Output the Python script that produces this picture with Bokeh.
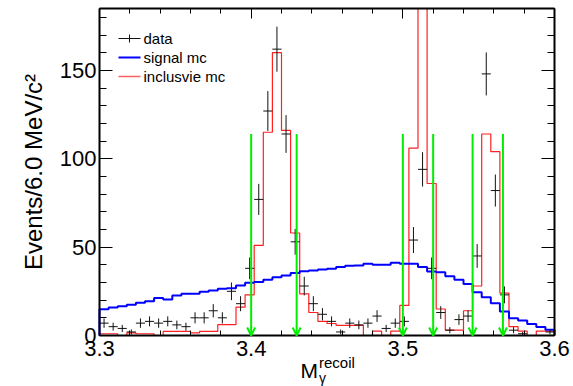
import numpy as np
from bokeh.plotting import figure
from bokeh.models import (Range1d, FixedTicker, LinearAxis, Arrow, OpenHead,
                          CustomJSTickFormatter)
from bokeh.embed import file_html
from bokeh.resources import INLINE
from bokeh.core.properties import value

# ---------------- data ----------------
x_min, x_max, bin_width = 3.3, 3.6, 0.006
y_max = 185

data_counts = [7, 5, 4, 2, 7, 8, 7, 8, 6, 5,
               10, 10, 14, 10, 25, 18, 38, 77, 127, 162,
               114, 53, 28, 18, 12, 8, 2, 7, 6, 7,
               11, 4, 7, 8, 54, 94, 38, 13, 3, 9,
               11, 45, 148, 82, 23, 3, 1, 0, 0, 2]

signal_mc = [14.8, 15.8, 16.5, 17.4, 18.5, 19.4, 21.2, 20.3, 22.6, 23.6,
             23.6, 24.7, 25.5, 26.4, 26.8, 28.3, 29.8, 30.3, 31.5, 33.0,
             34.0, 35.3, 36.3, 36.8, 37.3, 37.8, 38.8, 39.5, 39.6, 40.6,
             40.0, 40.0, 41.1, 40.6, 40.6, 38.7, 36.2, 35.8, 33.5, 31.6,
             29.2, 24.5, 21.7, 18.2, 13.6, 9.7, 8.5, 6.5, 4.8, 3.3]

inclusive_mc = [1.0, 1.0, 0.0, 1.5, 1.0, 1.0, 0.0, 2.3, 2.3, 2.3,
                1.5, 2.3, 2.3, 6.2, 6.2, 16.0, 23.0, 51.0, 115.0, 160.0,
                116.0, 58.0, 23.6, 13.0, 8.0, 6.8, 5.7, 5.7, 5.7, 0.0,
                2.5, 0.0, 2.5, 17.0, 106.0, 230.0, 86.0, 15.0, 3.0, 3.0,
                14.0, 28.0, 114.0, 104.0, 24.0, 5.0, 2.5, 0.0, 2.5, 2.5]

cut_positions = [3.40, 3.43, 3.50, 3.52, 3.546, 3.566]
cut_arrow_top = 114

x_ticks = [3.3, 3.4, 3.5, 3.6]
y_ticks = [0, 50, 100, 150]
legend_labels = ["data", "signal mc", "inclusvie mc"]

# ---------------- derived ----------------
n_bins = len(data_counts)
edges = x_min + bin_width * np.arange(n_bins + 1)
centers = edges[:-1] + bin_width / 2


def step_outline(vals):
    xs, ys = [edges[0]], [0.0]
    for i, v in enumerate(vals):
        xs += [edges[i], edges[i + 1]]
        ys += [v, v]
    xs.append(edges[-1])
    ys.append(0.0)
    return xs, ys


FONT = "Liberation Sans"
W, H = 573, 386
# pixel box of the histogram frame inside the canvas
box_l, box_r, box_t, box_b = 99, 554, 8, 335
ppx = (box_r - box_l) / (x_max - x_min)
ppy = (box_b - box_t) / y_max

p = figure(width=W, height=H, output_backend="svg", toolbar_location=None,
           x_range=Range1d(x_min - box_l / ppx, x_max + (W - box_r) / ppx),
           y_range=Range1d(-(H - box_b) / ppy, y_max + box_t / ppy),
           min_border=0, background_fill_color="white",
           border_fill_color="white")
p.xgrid.visible = False
p.ygrid.visible = False
p.outline_line_color = None


def px_x(px):
    return x_min + (px - box_l) / ppx


def px_y(py):
    return (box_b - py) / ppy


# histograms (clipped at the top of the histogram box)
rx, ry = step_outline(inclusive_mc)
p.line(rx, np.minimum(ry, y_max), line_color="#ff2020", line_width=1.2)
bx, by = step_outline(signal_mc)
p.line(bx, by, line_color="#0000ff", line_width=2)

# data with errors
d = np.array(data_counts, dtype=float)
mask = d > 0
err = np.sqrt(d)
p.segment(x0=centers[mask], y0=(d - err)[mask], x1=centers[mask], y1=(d + err)[mask],
          line_color="#111111", line_width=1)
p.segment(x0=edges[:-1][mask], y0=d[mask], x1=edges[1:][mask], y1=d[mask],
          line_color="#111111", line_width=1)

# cut arrows
for c in cut_positions:
    p.add_layout(Arrow(x_start=c, y_start=cut_arrow_top, x_end=c, y_end=0,
                       line_color="#00ee00", line_width=2,
                       end=OpenHead(size=8, line_color="#00ee00", line_width=2)))

# legend (manual, ROOT style)
leg_x0, leg_x1, leg_tx = px_x(118), px_x(140), px_x(143)
leg_y = [px_y(38), px_y(57), px_y(76)]
leg_xm = (leg_x0 + leg_x1) / 2
p.segment(x0=[leg_x0], y0=[leg_y[0]], x1=[leg_x1], y1=[leg_y[0]], line_color="#111111", line_width=1)
p.segment(x0=[leg_xm], y0=[leg_y[0] - 4 / ppy], x1=[leg_xm], y1=[leg_y[0] + 4 / ppy],
          line_color="#111111", line_width=1)
p.segment(x0=[leg_x0], y0=[leg_y[1]], x1=[leg_x1], y1=[leg_y[1]], line_color="#0000ff", line_width=2)
p.segment(x0=[leg_x0], y0=[leg_y[2]], x1=[leg_x1], y1=[leg_y[2]], line_color="#ff6060", line_width=1.5)
p.text(x=[leg_tx] * 3, y=leg_y, text=legend_labels, text_font=value(FONT),
       text_font_size="15px", text_baseline="middle", text_align="left", text_color="black")

# axes, all pinned to the histogram box
minor_x = list(np.round(np.arange(x_min, x_max + 1e-9, 0.02), 3))
minor_y = list(range(0, 181, 10))

xa = p.xaxis[0]
xa.ticker = FixedTicker(ticks=x_ticks, minor_ticks=minor_x)
xa.fixed_location = 0
xa.bounds = (x_min, x_max)
ya = p.yaxis[0]
ya.ticker = FixedTicker(ticks=y_ticks, minor_ticks=minor_y)
ya.fixed_location = x_min
ya.bounds = (0, y_max)

for ax, maj, mino in [(xa, 10, 5), (ya, 13, 7)]:
    ax.major_tick_in = maj
    ax.major_tick_out = 0
    ax.minor_tick_in = mino
    ax.minor_tick_out = 0
    ax.axis_line_width = 2
    ax.axis_line_color = "black"
    ax.major_tick_line_width = 1
    ax.minor_tick_line_width = 1
    ax.major_tick_line_color = "black"
    ax.minor_tick_line_color = "black"
    ax.major_label_text_font = FONT
    ax.major_label_text_font_size = "22px"
    ax.major_label_text_color = "black"

xa.major_label_standoff = 5
ya.major_label_standoff = 3
ya.axis_label = "Events/6.0 MeV/c\u00b2"
ya.axis_label_text_font = FONT
ya.axis_label_text_font_size = "24px"
ya.axis_label_text_font_style = "normal"
ya.axis_label_text_color = "black"
ya.axis_label_standoff = 10

for loc, ticks, minor, maj, mino, bnds, fixed in [
        ("right", y_ticks, minor_y, 13, 7, (0, y_max), x_max),
        ("above", x_ticks, minor_x, 10, 5, (x_min, x_max), y_max)]:
    ax = LinearAxis(ticker=FixedTicker(ticks=ticks, minor_ticks=minor),
                    formatter=CustomJSTickFormatter(code="return ''"),
                    major_tick_in=maj, major_tick_out=0,
                    minor_tick_in=mino, minor_tick_out=0, bounds=bnds,
                    fixed_location=fixed, axis_line_color="black",
                    major_tick_line_color="black", minor_tick_line_color="black",
                    axis_line_width=2, major_label_standoff=0,
                    major_label_text_font_size="1px", major_label_text_color=None)
    p.add_layout(ax, loc)

# x axis title: M_gamma^recoil (positions given by text middles)
p.text(x=[px_x(300)], y=[px_y(369.5)], text=["M"], text_font=value(FONT),
       text_font_size="21px", text_baseline="middle", text_color="black")
p.text(x=[px_x(318.5)], y=[px_y(361.5)], text=["recoil"], text_font=value(FONT),
       text_font_size="15px", text_baseline="middle", text_color="black")
p.text(x=[px_x(318.5)], y=[px_y(377)], text=["\u03b3"], text_font=value(FONT),
       text_font_size="14px", text_baseline="middle", text_color="black")

open("out.html", "w").write(file_html(p, INLINE))
